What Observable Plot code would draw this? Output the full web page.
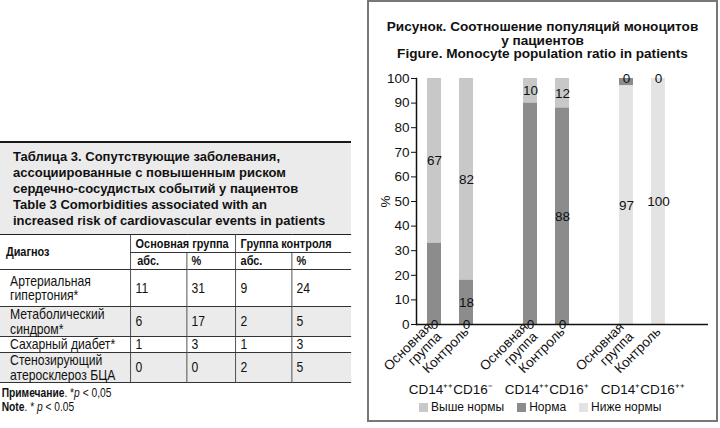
<!DOCTYPE html>
<html><head><meta charset="utf-8">
<script src="https://cdn.jsdelivr.net/npm/d3@7"></script>
<script src="https://cdn.jsdelivr.net/npm/@observablehq/plot@0.6"></script>
<style>
body{margin:0;background:#fff;width:720px;height:428px;position:relative;overflow:hidden;font-family:"Liberation Sans",Arial,sans-serif;color:#111}
#tbl{position:absolute;left:0;top:141px;width:351px}
#tbl .ttl{border-top:2.5px solid #1a1a1a;background:#ebebeb;padding:6px 2px 5px 13px;font:bold 13px/16px "Liberation Sans",Arial,sans-serif;color:#111}
#tscale{width:417.86px;transform:scaleX(0.84);transform-origin:0 0}
#tbl table{border-collapse:collapse;width:417.86px;table-layout:fixed;font-family:"Liberation Sans",Arial,sans-serif;font-size:14.5px;line-height:14.5px;color:#111}
#tbl td,#tbl th{border:1px solid #333;padding:0 5px;text-align:left;vertical-align:middle;white-space:nowrap}
#tbl td:first-child{padding-left:12px}
#tbl th:first-child{padding-left:7px}
#tbl tr>*:first-child{border-left:none}
#tbl tr>*:last-child{border-right:none}
#tbl thead tr:first-child>*{border-top:1.5px solid #222}
#tbl th{font-weight:bold;font-size:13px;background:#fff;line-height:14px}
#tbl tbody tr.g{background:#ebebeb}
#tbl .note{font-family:"Liberation Sans",Arial,sans-serif;font-size:12.2px;line-height:13.5px;padding:4px 0 0 2px;color:#111}
#box{position:absolute;left:367px;top:0;width:347px;height:418px;border:2px solid #777}
#ctitle{position:absolute;left:0;top:18px;width:100%;text-align:center;font:bold 13.6px/13.5px "Liberation Sans",Arial,sans-serif;color:#111}
#plot{position:absolute;left:0;top:56px}
#legend{position:absolute;left:50px;top:398px;font:12px/14px "Liberation Sans",Arial,sans-serif;display:flex;color:#111}
#legend span.it{display:flex;align-items:center;margin-right:13px}
#legend i{display:inline-block;width:9px;height:9px;margin-right:3px}
</style></head>
<body>
<div id="tbl"></div>
<div id="box">
  <div id="ctitle"></div>
  <div id="plot"></div>
  <div id="legend"></div>
</div>
<script>
// ---- table data ----
const tableTitle = ["Таблица 3. Сопутствующие заболевания,","ассоциированные с повышенным риском","сердечно-сосудистых событий у пациентов","Table 3 Comorbidities associated with an","increased risk of cardiovascular events in patients"];
const headGroups = ["Основная группа","Группа контроля"];
const headSub = ["абс.","%"];
const diagnoses = ["Артериальная<br>гипертония*","Метаболический<br>синдром*","Сахарный диабет*","Стенозирующий<br>атеросклероз БЦА"];
const mainAbs = [11,6,1,0];
const mainPct = [31,17,3,0];
const ctrlAbs = [9,2,1,2];
const ctrlPct = [24,5,3,5];
const rowHeights = [37,30,16,30];

// ---- chart data ----
const chartTitle = ["Рисунок. Соотношение популяций моноцитов","у пациентов","Figure. Monocyte population ratio in patients"];
const groups = ["CD14⁺⁺CD16⁻","CD14⁺⁺CD16⁺","CD14⁺CD16⁺⁺"];
const subgroups = ["Основная\nгруппа","Контроль"];
const seriesNames = ["Выше нормы","Норма","Ниже нормы"];
const seriesColors = ["#c8c8c8","#8c8c8c","#e3e3e3"];
const aboveNorm = [67,82,10,12,0,0];
const norm = [33,18,90,88,3,0];
const belowNorm = [0,0,0,0,97,100];
const yTicks = [0,10,20,30,40,50,60,70,80,90,100];
const stackOrder = ["Ниже нормы","Норма","Выше нормы"];

// ---- table ----
const cw = [131,56,49,56,59].map(w => (w/0.84).toFixed(2));
let html = `<div class="ttl">${tableTitle.join("<br>")}</div><div id="tscale"><table>
<colgroup>${cw.map(w=>`<col style="width:${w}px">`).join("")}</colgroup>
<thead><tr style="height:18px"><th rowspan="2">Диагноз</th>${headGroups.map(g=>`<th colspan="2">${g}</th>`).join("")}</tr>
<tr style="height:17px">${headGroups.map(()=>headSub.map(s=>`<th>${s}</th>`).join("")).join("")}</tr></thead><tbody>`;
diagnoses.forEach((d,i)=>{
  html += `<tr class="${i%2?"g":""}" style="height:${rowHeights[i]}px"><td>${d}</td><td>${mainAbs[i]}</td><td>${mainPct[i]}</td><td>${ctrlAbs[i]}</td><td>${ctrlPct[i]}</td></tr>`;
});
html += `</tbody></table><div class="note"><b>Примечание</b>. *<i>p</i> &lt; 0,05<br><b>Note</b>. * <i>p</i> &lt; 0.05</div></div>`;
document.getElementById("tbl").innerHTML = html;

// ---- chart ----
document.getElementById("ctitle").innerHTML = chartTitle.join("<br>");
const slots = [];
groups.forEach((g,i)=>{ subgroups.forEach(s=>slots.push(g+"|"+s)); slots.push("gap"+i); });
const seriesValues = [aboveNorm, norm, belowNorm];
const rows = [];
groups.forEach((g,i)=>subgroups.forEach((s,j)=>{
  const k = i*2+j;
  seriesNames.forEach((name,si)=>rows.push({slot:g+"|"+s, group:g, sub:s, series:name, value:seriesValues[si][k]}));
}));
const W = 347, ML = 47, MR = 8;
const step = (W-ML-MR)/slots.length;
const showLabel = d => !(d.series === "Норма" && (d.sub !== "Контроль" || d.value === 0));
const chart = Plot.plot({
  width: W, height: 340,
  marginLeft: ML, marginRight: MR, marginTop: 20, marginBottom: 74,
  style: {fontFamily: "'Liberation Sans', Arial, sans-serif", fontSize: "13px", color: "#111", background: "transparent", overflow: "visible"},
  x: {type: "band", domain: slots, paddingInner: 0.57, paddingOuter: 0.285, align: 0.5},
  y: {domain: [0,100]},
  color: {domain: seriesNames, range: seriesColors},
  marks: [
    Plot.barY(rows, Plot.stackY({x: "slot", y: "value", z: "series", fill: "series", order: stackOrder})),
    Plot.ruleY([0], {stroke: "#111", strokeWidth: 1.5}),
    Plot.frame({anchor: "left", stroke: "#111", strokeWidth: 1.5}),
    Plot.axisY({ticks: yTicks, tickSize: 5, tickPadding: 2, label: "%", labelArrow: false, labelAnchor: "center", labelOffset: 36, fontSize: 13.5}),
    Plot.axisX({ticks: slots.filter(s=>!s.startsWith("gap")), tickFormat: d => d.split("|")[1], tickRotate: -45, tickSize: 0, tickPadding: 5, label: null, fontSize: 13.5}),
    Plot.text(rows, Plot.stackY({x: "slot", y: "value", z: "series", order: stackOrder,
      text: d => showLabel(d) ? String(d.value) : "", fill: "#111", fontSize: 13.5})),
    Plot.text(groups, {x: g => g+"|"+subgroups[0], frameAnchor: "bottom", lineAnchor: "middle", dx: step/2, dy: 65, text: g => g, fontSize: 13.5, fill: "#111"})
  ]
});
document.getElementById("plot").appendChild(chart);

// ---- legend ----
document.getElementById("legend").innerHTML = seriesNames.map((n,i)=>`<span class="it"><i style="background:${seriesColors[i]}"></i>${n}</span>`).join("");
</script>
</body></html>
